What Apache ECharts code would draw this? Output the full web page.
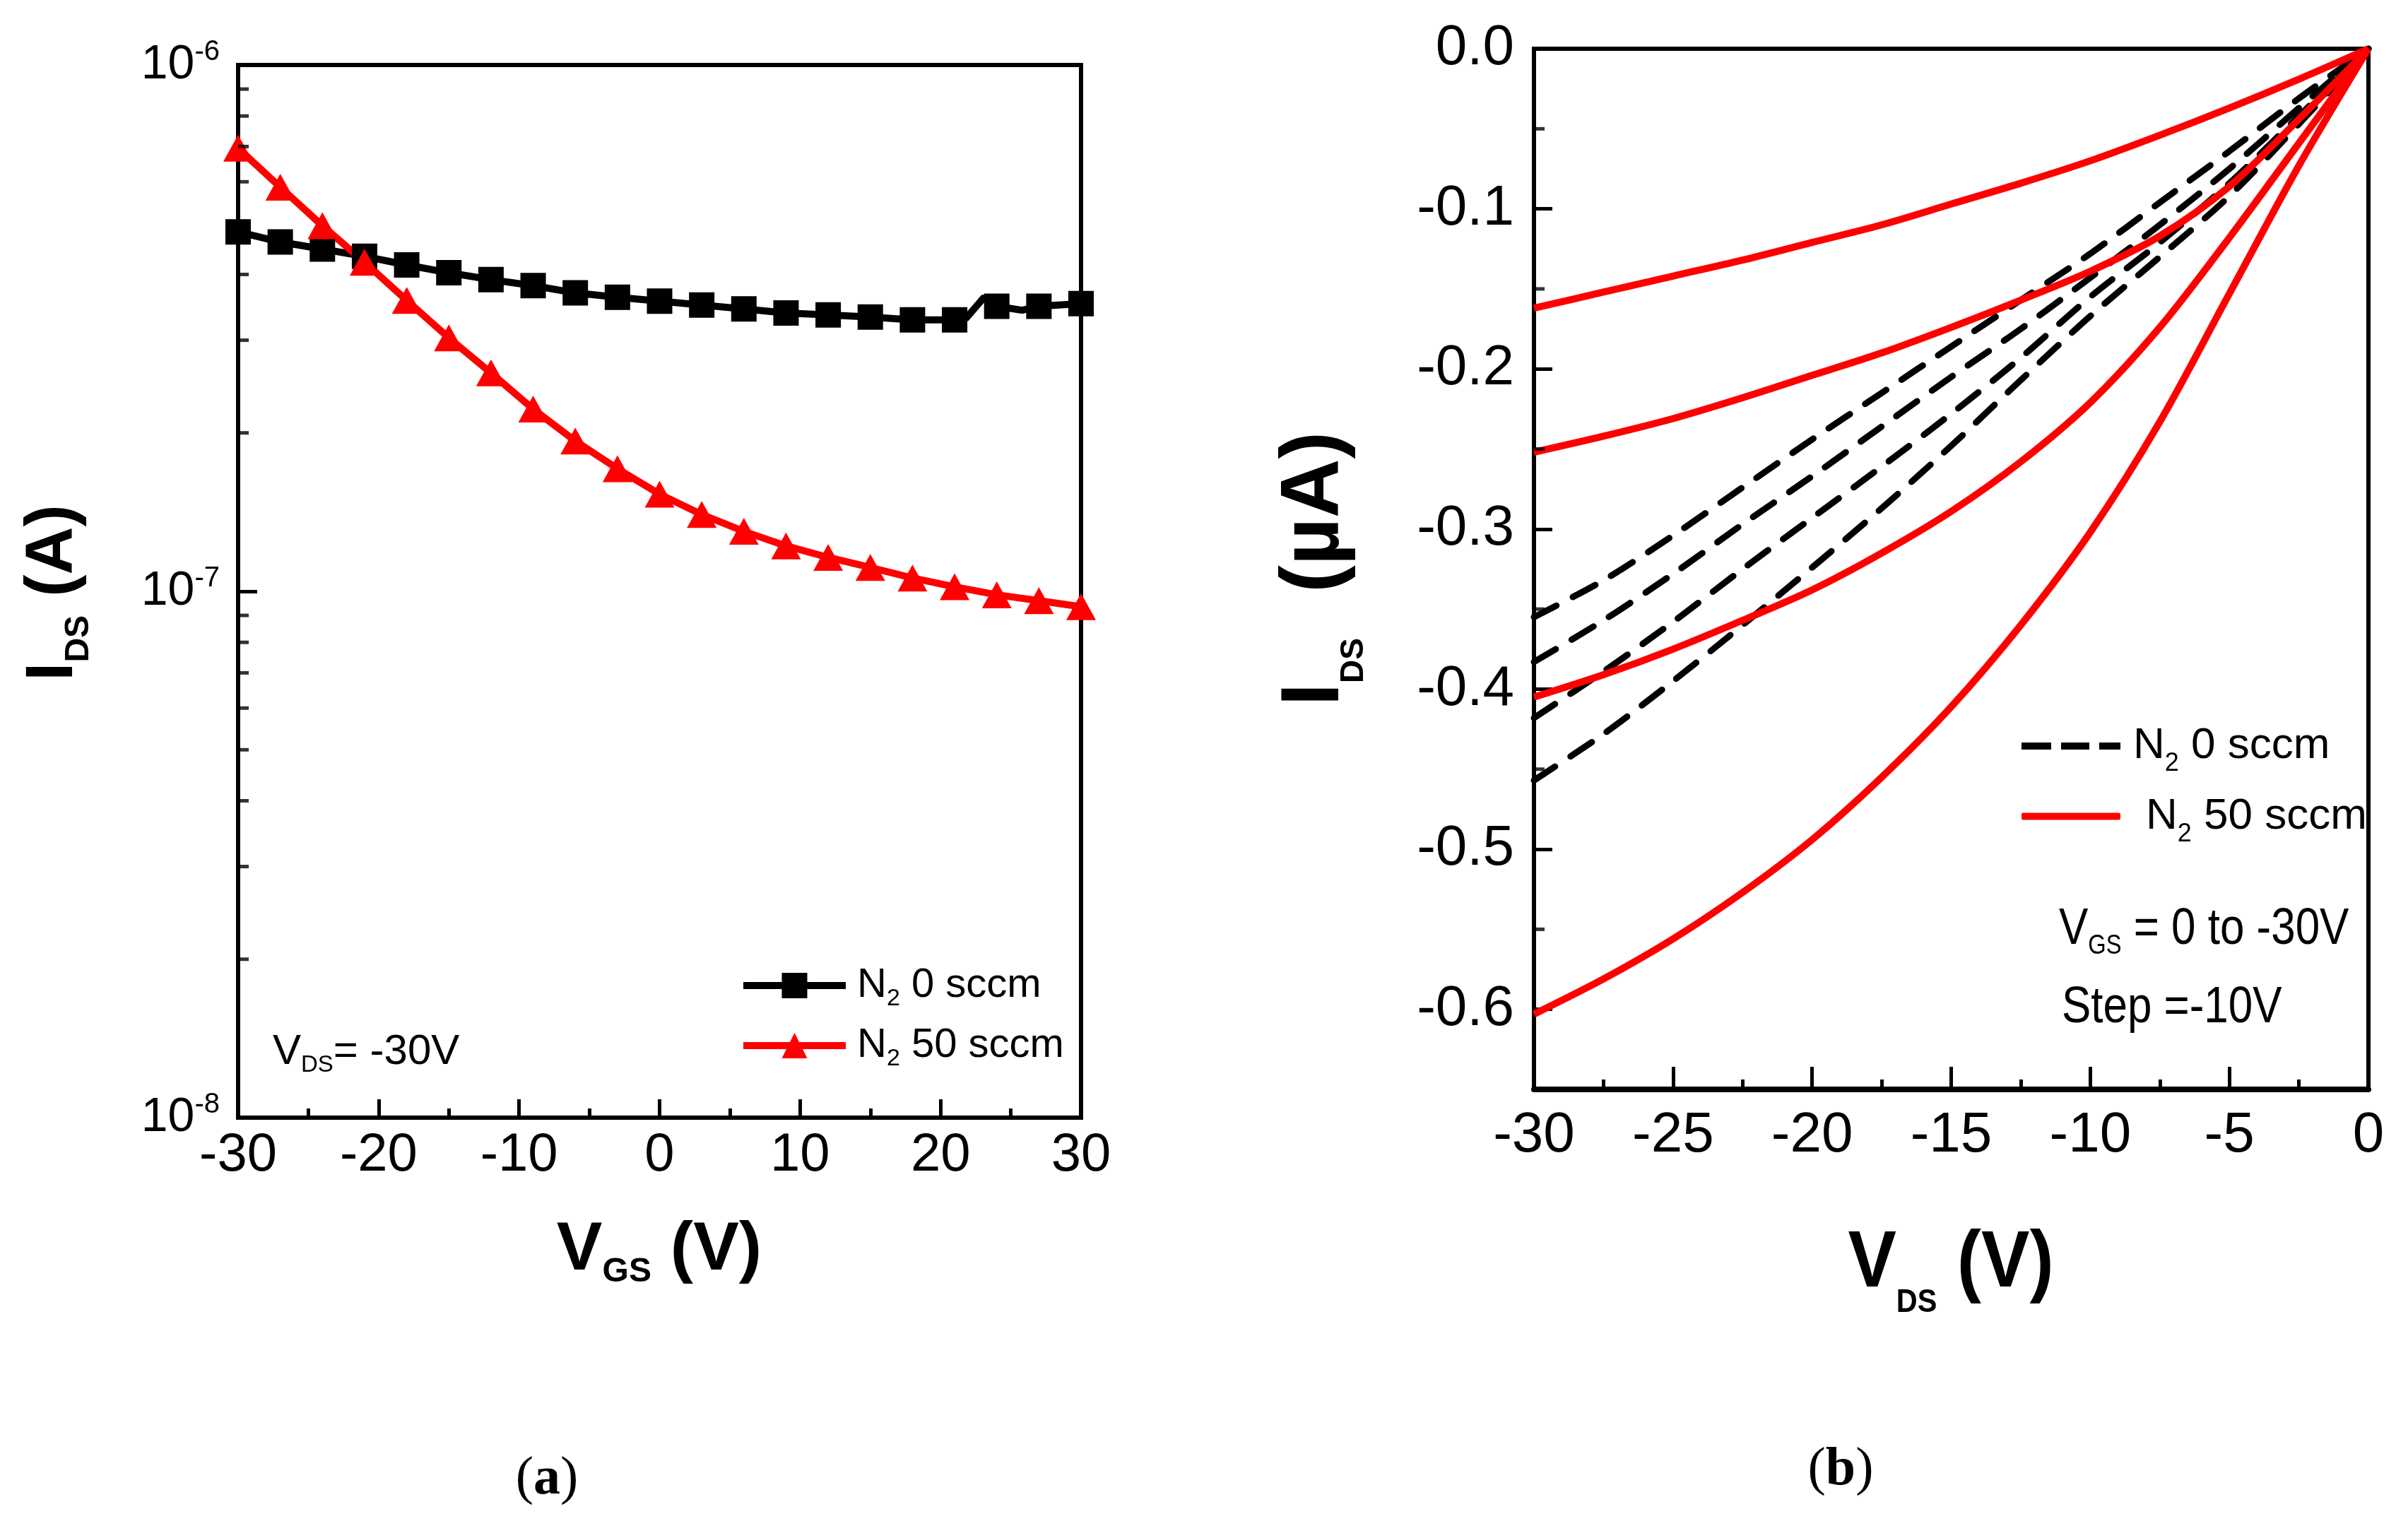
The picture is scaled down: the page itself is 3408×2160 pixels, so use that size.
<!DOCTYPE html>
<html>
<head>
<meta charset="utf-8">
<script src="https://cdn.jsdelivr.net/npm/echarts@6/dist/echarts.min.js"></script>
<style>
  html, body { margin: 0; padding: 0; background: #fff; }
  #chart { width: 3408px; height: 2160px; }
</style>
</head>
<body>
<div id="chart"></div>
<script>
// (a) transfer curves, V_DS = -30 V
var vgs = [-30, -27, -24, -21, -18, -15, -12, -9, -6, -3, 0, 3, 6, 9, 12, 15, 18, 21, 24, 27, 30];
var idsN0 = [4.82e-7, 4.61e-7, 4.47e-7, 4.33e-7, 4.17e-7, 4.03e-7, 3.91e-7, 3.81e-7, 3.69e-7, 3.62e-7,
  3.56e-7, 3.50e-7, 3.44e-7, 3.38e-7, 3.35e-7, 3.32e-7, 3.28e-7, 3.28e-7, 3.48e-7, 3.48e-7, 3.52e-7];
var idsN50 = [6.95e-7, 5.86e-7, 4.95e-7, 4.22e-7, 3.57e-7, 3.03e-7, 2.60e-7, 2.22e-7, 1.93e-7, 1.71e-7,
  1.53e-7, 1.40e-7, 1.30e-7, 1.22e-7, 1.16e-7, 1.11e-7, 1.06e-7, 1.02e-7, 9.85e-8, 9.6e-8, 9.35e-8];
// unmarked points of the black trace (the small jump near 22 V)
var bumpV = [21.8, 23.1, 25.8];
var bumpI = [3.30e-7, 3.62e-7, 3.42e-7];
var logMajor = [1e-8, 1e-7, 1e-6];
var logMinor = [2e-8, 3e-8, 4e-8, 5e-8, 6e-8, 7e-8, 8e-8, 9e-8, 2e-7, 3e-7, 4e-7, 5e-7, 6e-7, 7e-7, 8e-7, 9e-7];

// (b) output curves, V_GS = 0 .. -30 V
var vds = [-30, -27.5, -25, -22.5, -20, -17.5, -15, -12.5, -10, -7.5, -5, -2.5, 0];
var n0Vg0 = [-0.355, -0.332, -0.304, -0.274, -0.244, -0.215, -0.186, -0.157, -0.128, -0.096, -0.064, -0.031, 0];
var n0Vg10 = [-0.383, -0.357, -0.328, -0.297, -0.267, -0.236, -0.205, -0.175, -0.143, -0.110, -0.075, -0.037, 0];
var n0Vg20 = [-0.418, -0.389, -0.358, -0.325, -0.293, -0.261, -0.228, -0.193, -0.155, -0.121, -0.084, -0.042, 0];
var n0Vg30 = [-0.457, -0.428, -0.395, -0.360, -0.324, -0.287, -0.248, -0.207, -0.167, -0.130, -0.092, -0.047, 0];
var n50Vg0 = [-0.162, -0.152, -0.142, -0.132, -0.121, -0.110, -0.097, -0.084, -0.070, -0.054, -0.037, -0.019, 0];
var n50Vg10 = [-0.252, -0.242, -0.231, -0.218, -0.204, -0.190, -0.174, -0.157, -0.139, -0.117, -0.086, -0.044, 0];
var n50Vg20 = [-0.405, -0.391, -0.375, -0.357, -0.338, -0.315, -0.289, -0.258, -0.221, -0.174, -0.118, -0.059, 0];
var n50Vg30 = [-0.603, -0.581, -0.556, -0.527, -0.494, -0.455, -0.411, -0.360, -0.302, -0.233, -0.153, -0.073, 0];
var linMajor = [0, -0.1, -0.2, -0.3, -0.4, -0.5, -0.6];
var linMinor = [-0.05, -0.15, -0.25, -0.35, -0.45, -0.55];

var SANS = '"Liberation Sans", Arial, sans-serif';
var SERIF = '"Liberation Serif", "Times New Roman", serif';

function pairs(xs, ys) {
  return xs.map(function (x, i) { return [x, ys[i]]; });
}

// black trace: marked points plus a few unmarked ones, sorted by V
var blackData = pairs(vgs, idsN0).map(function (p) { return { value: p }; })
  .concat(pairs(bumpV, bumpI).map(function (p) { return { value: p, symbol: 'none' }; }))
  .sort(function (a, b) { return a.value[0] - b.value[0]; });

var dom = document.getElementById('chart');
var myChart = echarts.init(dom, null, { renderer: 'canvas' });

var tickLine = { color: '#000', width: 5 };
var frameLine = { color: '#000', width: 6 };

// short inward ticks on the left frame, placed through the axis scale
function minorTicks(xAxisIndex, yAxisIndex, xAtFrame, values) {
  return {
    type: 'scatter', xAxisIndex: xAxisIndex, yAxisIndex: yAxisIndex, silent: true, z: 5,
    data: values.map(function (v) { return [xAtFrame, v]; }),
    symbol: 'rect', symbolSize: [15, 5], symbolOffset: [7.5, 0],
    itemStyle: { color: '#000' }, clip: false
  };
}

var option = {
  backgroundColor: '#fff',
  animation: false,
  grid: [
    { left: 337, top: 92, width: 1193, height: 1490, show: true, borderColor: '#000', borderWidth: 6,
      backgroundColor: 'transparent', outerBoundsMode: 'none' },
    { left: 2171, top: 69, width: 1181, height: 1473, show: true, borderColor: '#000', borderWidth: 6,
      backgroundColor: 'transparent', outerBoundsMode: 'none' }
  ],
  xAxis: [
    {
      gridIndex: 0, type: 'value', min: -30, max: 30, interval: 10, position: 'bottom',
      axisLine: { show: true, onZero: false, lineStyle: frameLine },
      axisTick: { show: true, inside: true, length: 26, lineStyle: tickLine },
      minorTick: { show: true, splitNumber: 2, length: 13, lineStyle: tickLine },
      splitLine: { show: false },
      axisLabel: { color: '#000', fontSize: 76, fontFamily: SANS, margin: 16 }
    },
    {
      gridIndex: 1, type: 'value', min: -30, max: 0, interval: 5, position: 'bottom',
      axisLine: { show: true, onZero: false, lineStyle: { color: '#000', width: 8 } },
      axisTick: { show: true, inside: true, length: 32, lineStyle: tickLine },
      minorTick: { show: true, splitNumber: 2, length: 14, lineStyle: tickLine },
      splitLine: { show: false },
      axisLabel: { color: '#000', fontSize: 80, fontFamily: SANS, margin: 26 }
    }
  ],
  yAxis: [
    {
      gridIndex: 0, type: 'log', logBase: 10, min: 1e-8, max: 1e-6, position: 'left',
      axisLine: { show: true, onZero: false, lineStyle: frameLine },
      axisTick: { show: true, inside: true, length: 27, lineStyle: tickLine, customValues: logMajor },
      splitLine: { show: false },
      axisLabel: {
        customValues: logMajor, margin: 26,
        formatter: function (v) {
          return '{b|10}{s|' + Math.round(Math.log10(v)) + '}';
        },
        rich: {
          b: { fontSize: 68, fontFamily: SANS, color: '#000', lineHeight: 76, verticalAlign: 'middle' },
          s: { fontSize: 40, fontFamily: SANS, color: '#000', lineHeight: 14, verticalAlign: 'top' }
        }
      }
    },
    {
      gridIndex: 1, type: 'value', min: -0.65, max: 0, position: 'left',
      axisLine: { show: true, onZero: false, lineStyle: frameLine },
      axisTick: { show: true, inside: true, length: 26, lineStyle: tickLine, customValues: linMajor },
      splitLine: { show: false },
      axisLabel: {
        customValues: linMajor, margin: 28, color: '#000', fontSize: 80, fontFamily: SANS,
        formatter: function (v) { return v.toFixed(1); }
      }
    }
  ],
  legend: [
    {
      data: ['a0', 'a50'], orient: 'vertical', left: 1042, top: 1361,
      itemWidth: 145, itemHeight: 45, itemGap: 20,
      lineStyle: { width: 10 },
      formatter: function (name) {
        return name === 'a0' ? '{f|N}{s|2}{n| 0 sccm}' : '{f|N}{s|2}{n| 50 sccm}';
      },
      textStyle: {
        rich: {
          f: { fontSize: 58, fontFamily: SANS, color: '#000', lineHeight: 72, padding: [0, 0, 0, 11] },
          n: { fontSize: 58, fontFamily: SANS, color: '#000', lineHeight: 72 },
          s: { fontSize: 34, fontFamily: SANS, color: '#000', lineHeight: 10, verticalAlign: 'bottom' }
        }
      }
    },
    {
      orient: 'vertical', left: 2856, top: 1020,
      itemWidth: 140, itemHeight: 10, itemGap: 25,
      data: [
        { name: 'b0', icon: 'path://M0 0H42V10H0Z M56 0H96V10H56Z M110 0H140V10H110Z' },
        { name: 'b50', icon: 'roundRect' }
      ],
      formatter: function (name) {
        return name === 'b0' ? '{f|N}{s|2}{n| 0 sccm}' : '{g|N}{s|2}{n| 50 sccm}';
      },
      textStyle: {
        rich: {
          f: { fontSize: 62, fontFamily: SANS, color: '#000', lineHeight: 87, padding: [0, 0, 0, 13] },
          g: { fontSize: 62, fontFamily: SANS, color: '#000', lineHeight: 87, padding: [0, 0, 0, 31] },
          n: { fontSize: 62, fontFamily: SANS, color: '#000', lineHeight: 87 },
          s: { fontSize: 36, fontFamily: SANS, color: '#000', lineHeight: 10, verticalAlign: 'bottom' }
        }
      }
    }
  ],
  graphic: [
    {
      type: 'text', x: 933, y: 1770,
      style: {
        text: '{m|V}{s|GS}{m| (V)}', align: 'center', verticalAlign: 'middle',
        rich: {
          m: { fontSize: 97, fontWeight: 'bold', fontFamily: SANS, fill: '#000', lineHeight: 110 },
          s: { fontSize: 48, fontWeight: 'bold', fontFamily: SANS, fill: '#000', lineHeight: 10, verticalAlign: 'bottom' }
        }
      }
    },
    {
      type: 'text', x: 76, y: 839, rotation: Math.PI / 2,
      style: {
        text: '{m|I}{s|DS}{m| (A)}', align: 'center', verticalAlign: 'middle',
        rich: {
          m: { fontSize: 94, fontWeight: 'bold', fontFamily: SANS, fill: '#000', lineHeight: 119 },
          s: { fontSize: 48, fontWeight: 'bold', fontFamily: SANS, fill: '#000', lineHeight: 10, verticalAlign: 'bottom' }
        }
      }
    },
    {
      type: 'text', x: 2761, y: 1790, scaleX: 0.9,
      style: {
        text: '{m|V}{s|DS}{m| (V)}', align: 'center', verticalAlign: 'middle',
        rich: {
          m: { fontSize: 114, fontWeight: 'bold', fontFamily: SANS, fill: '#000', lineHeight: 155 },
          s: { fontSize: 46, fontWeight: 'bold', fontFamily: SANS, fill: '#000', lineHeight: 10, verticalAlign: 'bottom' }
        }
      }
    },
    {
      type: 'text', x: 1862, y: 805, rotation: Math.PI / 2,
      style: {
        text: '{m|I}{s|DS}{m|  (\u00b5A)}', align: 'center', verticalAlign: 'middle',
        rich: {
          m: { fontSize: 116, fontWeight: 'bold', fontFamily: SANS, fill: '#000', lineHeight: 155 },
          s: { fontSize: 46, fontWeight: 'bold', fontFamily: SANS, fill: '#000', lineHeight: 10, verticalAlign: 'bottom' }
        }
      }
    },
    {
      type: 'text', x: 386, y: 1489,
      style: {
        text: '{m|V}{s|DS}{m|= -30V}', align: 'left', verticalAlign: 'middle',
        rich: {
          m: { fontSize: 60, fontFamily: SANS, fill: '#000', lineHeight: 70 },
          s: { fontSize: 33, fontFamily: SANS, fill: '#000', lineHeight: 10, verticalAlign: 'bottom' }
        }
      }
    },
    {
      type: 'text', x: 2914, y: 1316, scaleX: 0.86,
      style: {
        text: '{m|V}{s|GS}{m| = 0 to -30V}', align: 'left', verticalAlign: 'middle',
        rich: {
          m: { fontSize: 72, fontFamily: SANS, fill: '#000', lineHeight: 86 },
          s: { fontSize: 38, fontFamily: SANS, fill: '#000', lineHeight: 10, verticalAlign: 'bottom' }
        }
      }
    },
    {
      type: 'text', x: 2918, y: 1427, scaleX: 0.86,
      style: {
        text: 'Step =-10V', align: 'left', verticalAlign: 'middle',
        fontSize: 72, fontFamily: SANS, fill: '#000'
      }
    },
    {
      type: 'text', x: 774, y: 2094,
      style: {
        text: '{p|(}{b|a}{p|)}', align: 'center', verticalAlign: 'middle',
        rich: {
          p: { fontSize: 76, fontFamily: SERIF, fill: '#000' },
          b: { fontSize: 76, fontFamily: SERIF, fontWeight: 'bold', fill: '#000' }
        }
      }
    },
    {
      type: 'text', x: 2605, y: 2081,
      style: {
        text: '{p|(}{b|b}{p|)}', align: 'center', verticalAlign: 'middle',
        rich: {
          p: { fontSize: 76, fontFamily: SERIF, fill: '#000' },
          b: { fontSize: 76, fontFamily: SERIF, fontWeight: 'bold', fill: '#000' }
        }
      }
    }
  ],
  series: [
    minorTicks(0, 0, -30, logMinor),
    minorTicks(1, 1, -30, linMinor),
    {
      name: 'a0', type: 'line', xAxisIndex: 0, yAxisIndex: 0,
      data: blackData, symbol: 'rect', symbolSize: 36,
      lineStyle: { color: '#000', width: 10 }, itemStyle: { color: '#000' }
    },
    {
      name: 'a50', type: 'line', xAxisIndex: 0, yAxisIndex: 0,
      data: pairs(vgs, idsN50), symbol: 'triangle', symbolSize: [42, 38],
      lineStyle: { color: '#ff0000', width: 10 }, itemStyle: { color: '#ff0000' }
    }
  ]
};

[n0Vg0, n0Vg10, n0Vg20, n0Vg30].forEach(function (ys) {
  option.series.push({
    name: 'b0', type: 'line', xAxisIndex: 1, yAxisIndex: 1, smooth: 0.3,
    data: pairs(vds, ys), symbol: 'none',
    lineStyle: { color: '#000', width: 9, type: [36, 26], cap: 'round' }, itemStyle: { color: '#000' }
  });
});
[n50Vg0, n50Vg10, n50Vg20, n50Vg30].forEach(function (ys) {
  option.series.push({
    name: 'b50', type: 'line', xAxisIndex: 1, yAxisIndex: 1, smooth: 0.3,
    data: pairs(vds, ys), symbol: 'none',
    lineStyle: { color: '#ff0000', width: 10 }, itemStyle: { color: '#ff0000' }
  });
});

if (option && typeof option === 'object') {
  myChart.setOption(option);
}

window.addEventListener('resize', myChart.resize);
</script>
</body>
</html>
